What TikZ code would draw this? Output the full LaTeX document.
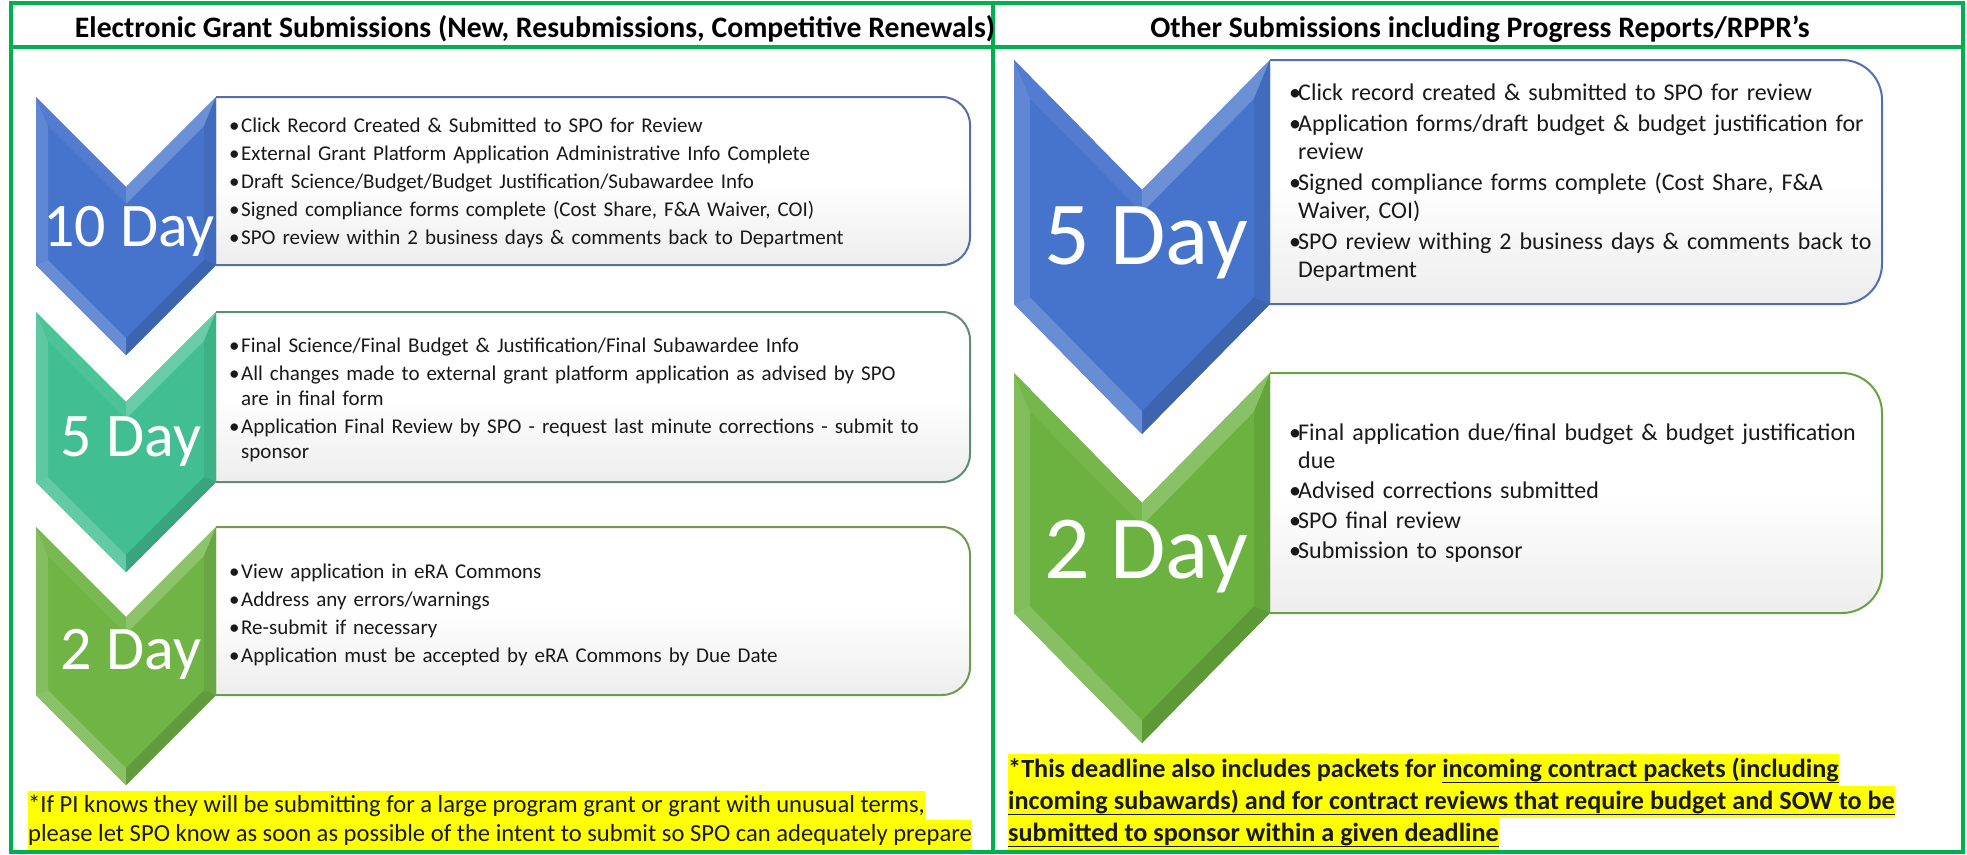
\documentclass[tikz,border=0pt]{standalone}
\usepackage{fontspec}
\setmainfont{Carlito}
\usetikzlibrary{calc}

\definecolor{framegreen}{RGB}{0,176,80}
\definecolor{chblue}{RGB}{70,116,204}
\definecolor{chteal}{RGB}{66,191,146}
\definecolor{chgreen}{RGB}{112,180,70}
\definecolor{chgreenR}{RGB}{108,178,64}
\definecolor{bxblue}{RGB}{85,110,165}
\definecolor{bxteal}{RGB}{95,140,115}
\definecolor{bxgreen}{RGB}{110,155,80}
\definecolor{bxblueR}{RGB}{80,110,180}
\definecolor{bxgreenR}{RGB}{105,160,65}
\definecolor{hl}{RGB}{255,255,0}
\definecolor{ink}{RGB}{25,25,25}

% chevron: centre x, top y, half width, notch depth, side length, bevel width, colour
\newcommand{\chevronshape}[7]{%
  \pgfmathsetmacro\chX{#1}\pgfmathsetmacro\chT{#2}\pgfmathsetmacro\chW{#3}%
  \pgfmathsetmacro\chD{#4}\pgfmathsetmacro\chH{#5}\pgfmathsetmacro\chE{#6}%
  \coordinate (p1) at (\chX-\chW,\chT);
  \coordinate (p2) at (\chX,\chT+\chD);
  \coordinate (p3) at (\chX+\chW,\chT);
  \coordinate (p4) at (\chX+\chW,\chT+\chH);
  \coordinate (p5) at (\chX,\chT+\chH+\chD);
  \coordinate (p6) at (\chX-\chW,\chT+\chH);
  \coordinate (q1) at (\chX-\chW+\chE,\chT+2.414*\chE);
  \coordinate (q2) at (\chX,\chT+\chD+1.414*\chE);
  \coordinate (q3) at (\chX+\chW-\chE,\chT+2.414*\chE);
  \coordinate (q4) at (\chX+\chW-\chE,\chT+\chH-0.414*\chE);
  \coordinate (q5) at (\chX,\chT+\chH+\chD-1.414*\chE);
  \coordinate (q6) at (\chX-\chW+\chE,\chT+\chH-0.414*\chE);
  \fill[#7] (p1)--(p2)--(p3)--(p4)--(p5)--(p6)--cycle;
  \fill[#7!86!white] (p6)--(p1)--(q1)--(q6)--cycle;
  \fill[#7!94!white] (p1)--(p2)--(q2)--(q1)--cycle;
  \fill[#7!80!white] (p2)--(p3)--(q3)--(q2)--cycle;
  \fill[#7!93!black] (p3)--(p4)--(q4)--(q3)--cycle;
  \fill[#7!86!black] (p4)--(p5)--(q5)--(q4)--cycle;
  \fill[#7!82!white] (p5)--(p6)--(q6)--(q5)--cycle;
}

% text panel to the right of a chevron: left x, right x, top y, bottom y, radius, border colour
\newcommand{\textpanel}[6]{%
  \path[top color=white, bottom color=black!7, middle color=white, rounded corners=#5]
    (#1,#3) -- (#2,#3) -- (#2,#4) -- (#1,#4);
  \draw[#6, line width=2, rounded corners=#5] (#1,#3) -- (#2,#3) -- (#2,#4) -- (#1,#4);
}

\newcommand{\litem}[1]{\par\hangindent=12pt\hangafter=1\noindent\makebox[12pt][l]{\textbullet}#1}
\newcommand{\ritem}[1]{\par\hangindent=9pt\hangafter=1\noindent\makebox[9pt][l]{\textbullet}#1}

\newsavebox{\ulbox}
\newcommand{\uln}[1]{\sbox{\ulbox}{#1}\rlap{\rule[-6pt]{\wd\ulbox}{1.6pt}}\usebox{\ulbox}}
\newcommand{\hlA}[1]{{\setlength{\fboxsep}{0pt}\colorbox{hl}{\rule[-8pt]{0pt}{29pt}#1}}}
\newcommand{\hlB}[1]{{\setlength{\fboxsep}{0pt}\colorbox{hl}{\rule[-9pt]{0pt}{32pt}#1}}}

\tikzset{
  panelframe/.style={draw=framegreen, line width=4},
  heading/.style={font=\fontsize{29.7}{34}\selectfont\bfseries, text=black, inner sep=0},
  daysmall/.style={font=\fontsize{62}{62}\selectfont, text=white, inner sep=0},
  daylarge/.style={font=\fontsize{90}{90}\selectfont, text=white, inner sep=0},
  ltext/.style={anchor=west, inner sep=0, text width=740, align=left, text=ink,
    font=\fontsize{21}{25}\selectfont},
  rtext/.style={anchor=west, inner sep=0, text width=660, align=left, text=ink,
    font=\fontsize{24}{28}\selectfont},
  lnote/.style={anchor=north west, inner sep=0, align=left, text=ink,
    font=\fontsize{24.6}{29}\selectfont},
  rnote/.style={anchor=north west, inner sep=0, align=left, text=ink,
    font=\fontsize{26.2}{32}\selectfont\bfseries},
}

\begin{document}
\begin{tikzpicture}[x=1pt, y=-1pt]
\fill[white] (0,0) rectangle (1967,854);
\useasboundingbox (0,0) rectangle (1967,854);

% outer frame, heading row and column divider
\draw[panelframe] (11,3) rectangle (1963,852);
\draw[panelframe] (11,47) -- (1963,47);
\draw[panelframe] (993,3) -- (993,852);

\node[heading] (hleft) at (535,29) {Electronic Grant Submissions (New, Resubmissions, Competitive Renewals)};
\node[heading] (hright) at (1480,29) {Other Submissions including Progress Reports/RPPR’s};

% ---- left column ----
\textpanel{216}{970}{97}{265}{28}{bxblue}
\textpanel{216}{970}{312}{482}{28}{bxteal}
\textpanel{216}{970}{527}{695}{28}{bxgreen}

\chevronshape{126}{97}{90}{90}{168}{12}{chblue}
\chevronshape{126}{312}{90}{90}{170}{12}{chteal}
\chevronshape{126}{527}{90}{90}{168}{12}{chgreen}

\node[daysmall] (l10) at (129,231) {10 Day};
\node[daysmall] (l5) at (131,442) {5 Day};
\node[daysmall] (l2) at (131,654) {2 Day};

\node[ltext] (t10) at (229,176) {\setlength{\parskip}{3pt}%
  \litem{Click Record Created \& Submitted to SPO for Review}
  \litem{External Grant Platform Application Administrative Info Complete}
  \litem{Draft Science/Budget/Budget Justification/Subawardee Info}
  \litem{Signed compliance forms complete (Cost Share, F\&A Waiver, COI)}
  \litem{SPO review within 2 business days \& comments back to Department}\par};

\node[ltext] (t5) at (229,393) {\setlength{\parskip}{3pt}%
  \litem{Final Science/Final Budget \& Justification/Final Subawardee Info}
  \litem{All changes made to external grant platform application as advised by SPO\newline are in final form}
  \litem{Application Final Review by SPO - request last minute corrections - submit to\newline sponsor}\par};

\node[ltext] (t2) at (229,608) {\setlength{\parskip}{3pt}%
  \litem{View application in eRA Commons}
  \litem{Address any errors/warnings}
  \litem{Re-submit if necessary}
  \litem{Application must be accepted by eRA Commons by Due Date}\par};

\node[lnote] (nleft) at (28,791) {%
  \hlA{*If PI knows they will be submitting for a large program grant or grant with unusual terms,}\\
  \hlA{please let SPO know as soon as possible of the intent to submit so SPO can adequately prepare}};

% ---- right column ----
\textpanel{1270}{1882}{60}{304}{40}{bxblueR}
\textpanel{1270}{1882}{373}{613}{40}{bxgreenR}

\chevronshape{1142}{60}{128}{130}{244}{16}{chblue}
\chevronshape{1142}{373}{128}{130}{240}{16}{chgreenR}

\node[daylarge] (r5) at (1146,243) {5 Day};
\node[daylarge] (r2) at (1146,557) {2 Day};

\node[rtext] (tr5) at (1289,175) {\setlength{\parskip}{3pt}%
  \ritem{Click record created \& submitted to SPO for review}
  \ritem{Application forms/draft budget \& budget justification for\newline review}
  \ritem{Signed compliance forms complete (Cost Share, F\&A\newline Waiver, COI)}
  \ritem{SPO review withing 2 business days \& comments back to\newline Department}\par};

\node[rtext] (tr2) at (1289,486) {\setlength{\parskip}{2pt}%
  \ritem{Final application due/final budget \& budget justification\newline due}
  \ritem{Advised corrections submitted}
  \ritem{SPO final review}
  \ritem{Submission to sponsor}\par};

\node[rnote] (nright) at (1008,754) {%
  \hlB{*This deadline also includes packets for \uln{incoming contract packets (including}}\\
  \hlB{\uln{incoming subawards) and for contract reviews that require budget and SOW to be}}\\
  \hlB{\uln{submitted to sponsor within a given deadline}}};
\end{tikzpicture}
\end{document}
